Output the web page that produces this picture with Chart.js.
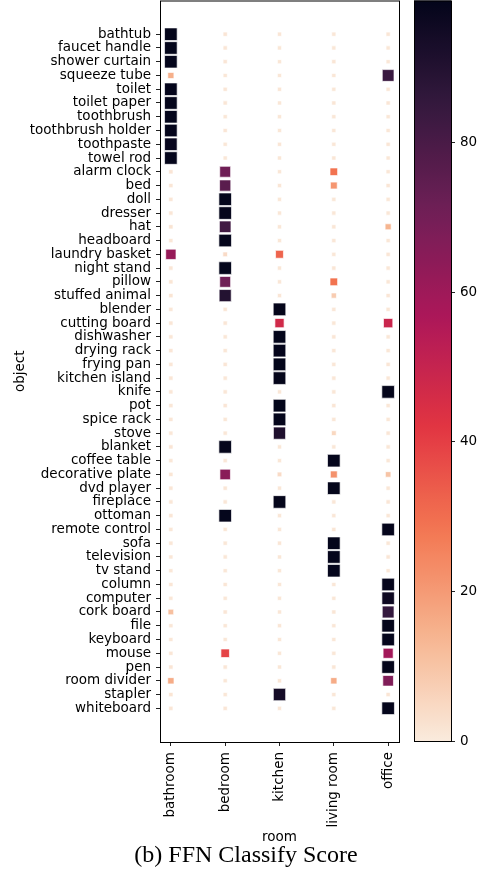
<!DOCTYPE html>
<html>
<head>
<meta charset="utf-8">
<script src="https://cdn.jsdelivr.net/npm/chart.js"></script>
<style>
  html, body { margin: 0; padding: 0; background: #fff; }
  #wrap { position: relative; width: 478px; height: 872px; overflow: hidden; }
  #mainBox { position: absolute; left: 0; top: 0; width: 478px; height: 872px; }
  #barBox { position: absolute; left: 400px; top: 0; width: 78px; height: 872px; }
  #caption {
    position: absolute; left: 0; top: 842px; width: 492px;
    text-align: center; font-family: "Liberation Serif", "Times New Roman", serif;
    font-size: 24px; line-height: 24px; color: #000; white-space: nowrap;
  }
</style>
</head>
<body>
<div id="wrap">
  <div id="mainBox"><canvas id="main"></canvas></div>
  <div id="barBox"><canvas id="bar"></canvas></div>
  <div id="caption">(b) FFN Classify Score</div>
</div>
<script>
// Rooms along x, objects along y
const rooms = ['bathroom', 'bedroom', 'kitchen', 'living room', 'office'];
const objects = [
  'bathtub', 'faucet handle', 'shower curtain', 'squeeze tube', 'toilet',
  'toilet paper', 'toothbrush', 'toothbrush holder', 'toothpaste', 'towel rod',
  'alarm clock', 'bed', 'doll', 'dresser', 'hat',
  'headboard', 'laundry basket', 'night stand', 'pillow', 'stuffed animal',
  'blender', 'cutting board', 'dishwasher', 'drying rack', 'frying pan',
  'kitchen island', 'knife', 'pot', 'spice rack', 'stove',
  'blanket', 'coffee table', 'decorative plate', 'dvd player', 'fireplace',
  'ottoman', 'remote control', 'sofa', 'television', 'tv stand',
  'column', 'computer', 'cork board', 'file', 'keyboard',
  'mouse', 'pen', 'room divider', 'stapler', 'whiteboard'
];

// Classify score per object, one array per room (same order as objects)
const bathroomScores = [
  98.5, 98.6, 98.4, 15, 98.7, 98.5, 98.6, 98.3, 97.5, 98.4,
  1.5, 1.2, 1.3, 1.2, 1.8, 1.0, 62, 1.2, 1.4, 1.6,
  1.0, 1.2, 1.1, 1.3, 1.0, 1.2, 1.0, 1.1, 1.2, 1.0,
  1.5, 1.0, 1.4, 1.2, 1.1, 1.3, 1.0, 1.1, 1.0, 1.0,
  1.2, 1.0, 11, 1.1, 1.0, 1.2, 1.5, 16, 1.6, 1.3
];
const bedroomScores = [
  1.5, 1.3, 1.2, 1.1, 1.2, 1.3, 1.1, 1.2, 1.0, 1.1,
  71, 76, 98.6, 98.5, 82, 98.4, 4, 98.6, 71, 90,
  1.2, 1.3, 1.1, 1.0, 1.2, 1.1, 1.0, 1.2, 1.1, 1.0,
  98.5, 1.0, 65, 1.2, 1.0, 98.3, 1.1, 1.0, 1.1, 1.0,
  1.2, 1.1, 1.3, 1.0, 1.1, 39, 1.2, 1.0, 1.1, 1.2
];
const kitchenScores = [
  1.2, 1.1, 1.0, 1.1, 1.2, 1.0, 1.1, 1.0, 1.2, 1.1,
  1.0, 1.2, 1.1, 1.0, 1.1, 1.0, 32, 1.1, 1.0, 1.2,
  98.5, 47, 98.6, 98.7, 98.6, 98.5, 1.0, 98.6, 98.4, 91,
  1.0, 1.1, 4, 1.0, 98.5, 1.1, 1.0, 1.2, 1.0, 1.1,
  1.0, 1.1, 1.0, 1.2, 1.0, 1.1, 1.0, 1.2, 94, 1.1
];
const livingRoomScores = [
  1.1, 1.0, 1.2, 1.1, 1.0, 1.2, 1.1, 1.0, 1.1, 1.2,
  29, 21, 1.1, 1.0, 1.2, 1.1, 1.0, 1.2, 29, 8,
  1.1, 1.0, 1.2, 1.1, 1.0, 1.1, 1.0, 1.2, 1.1, 5,
  1.0, 98.4, 22, 98.5, 1.1, 1.0, 1.2, 98.6, 98.5, 98.4,
  1.1, 1.0, 1.2, 1.1, 1.0, 1.1, 1.2, 16, 1.1, 1.0
];
const officeScores = [
  1.2, 1.1, 1.0, 84, 1.1, 1.2, 1.0, 1.1, 1.2, 1.0,
  1.1, 1.2, 1.0, 1.1, 14, 1.0, 1.2, 1.1, 1.0, 1.2,
  1.1, 49, 1.0, 1.1, 1.2, 1.0, 98.5, 1.1, 1.0, 1.2,
  1.1, 1.0, 10, 1.1, 1.2, 1.0, 98.3, 1.1, 1.2, 1.0,
  98.2, 96, 85, 98.5, 98.4, 59, 98.6, 67, 1.5, 98.4
];
const colorbarTicks = [0, 20, 40, 60, 80];

const roomScores = [bathroomScores, bedroomScores, kitchenScores, livingRoomScores, officeScores];
const VMIN = 0, VMAX = 99;

// "rocket" colour ramp (dark to light); higher scores map to darker colours
const rocketStops = [
  [0 / 7, '#03051a'], [1 / 7, '#35193e'], [2 / 7, '#701f57'], [3 / 7, '#ad1759'],
  [4 / 7, '#e13342'], [5 / 7, '#f37651'], [6 / 7, '#f6b48f'], [7 / 7, '#faebdd']
];
function hexRgb(h) { return [1, 3, 5].map(i => parseInt(h.substr(i, 2), 16)); }
function rocket(t) {
  t = Math.min(1, Math.max(0, t));
  for (let i = 1; i < rocketStops.length; i++) {
    const [p1, c1] = rocketStops[i];
    if (t <= p1) {
      const [p0, c0] = rocketStops[i - 1];
      const f = (t - p0) / (p1 - p0);
      const a = hexRgb(c0), b = hexRgb(c1);
      return 'rgb(' + a.map((v, k) => Math.round(v + (b[k] - v) * f)).join(',') + ')';
    }
  }
  return rocketStops[rocketStops.length - 1][1];
}
const scoreColor = v => rocket(1 - (v - VMIN) / (VMAX - VMIN));
// marker area grows linearly with the score
const markerSide = v => Math.sqrt(16 + 1.45 * v);

const points = [];
rooms.forEach((room, ri) => {
  roomScores[ri].forEach((v, oi) => points.push({ x: ri, y: oi, v: v }));
});

Chart.defaults.color = '#000';
Chart.defaults.font.family = '"DejaVu Sans", sans-serif';
Chart.defaults.font.size = 13.5;

const frame = {
  id: 'frame',
  afterDatasetsDraw(chart) {
    const { ctx, chartArea: a } = chart;
    ctx.save();
    ctx.strokeStyle = '#000';
    ctx.lineWidth = 1;
    ctx.strokeRect(a.left + 0.5, a.top + 0.5, a.right - a.left, a.bottom - a.top);
    ctx.restore();
  }
};

// keep the plot box where the layout padding puts it
function noEdgePadding(s) { s.paddingTop = 0; s.paddingBottom = 0; s.paddingLeft = 0; s.paddingRight = 0; }

new Chart(document.getElementById('main'), {
  type: 'scatter',
  data: {
    datasets: [{
      data: points,
      pointStyle: 'rect',
      pointRadius: c => c.raw ? markerSide(c.raw.v) / Math.SQRT2 : 2,
      pointHoverRadius: c => c.raw ? markerSide(c.raw.v) / Math.SQRT2 : 2,
      backgroundColor: c => c.raw ? scoreColor(c.raw.v) : '#000',
      borderColor: 'rgba(255,255,255,0.85)',
      borderWidth: 0.8
    }]
  },
  plugins: [frame],
  options: {
    responsive: true,
    maintainAspectRatio: false,
    animation: false,
    events: [],
    layout: { autoPadding: false, padding: { left: 0, top: 0.5, right: 79, bottom: 0 } },
    plugins: { legend: { display: false }, tooltip: { enabled: false } },
    scales: {
      x: {
        type: 'linear', min: -0.2, max: 4.2,
        afterBuildTicks: s => { s.ticks = rooms.map((_, i) => ({ value: i })); },
        afterFit: s => { s.height = 130; noEdgePadding(s); },
        ticks: {
          autoSkip: false, maxRotation: 90, minRotation: 90, padding: 6,
          callback: v => rooms[v]
        },
        grid: { drawOnChartArea: false, drawTicks: true, tickLength: 4, color: '#222', tickWidth: 1 },
        border: { display: false },
        title: { display: true, text: 'room', padding: { top: 0, bottom: 26 } }
      },
      y: {
        type: 'linear', min: -2.45, max: 51.45, reverse: true,
        afterBuildTicks: s => { s.ticks = objects.map((_, i) => ({ value: i })); },
        afterFit: s => { s.width = 160; noEdgePadding(s); },
        ticks: { autoSkip: false, padding: 5, callback: v => objects[v] },
        grid: { drawOnChartArea: false, drawTicks: true, tickLength: 4, color: '#222', tickWidth: 1 },
        border: { display: false },
        title: { display: true, text: 'object', padding: { top: 12, bottom: 0 } }
      }
    }
  }
});

// Colour bar: gradient drawn inside the chart area of a second chart
const gradientBar = {
  id: 'gradientBar',
  beforeDatasetsDraw(chart) {
    const { ctx, chartArea: a } = chart;
    const ys = chart.scales.y;
    const g = ctx.createLinearGradient(0, ys.getPixelForValue(VMIN), 0, ys.getPixelForValue(VMAX));
    for (let i = 0; i <= 40; i++) {
      const v = VMIN + (VMAX - VMIN) * i / 40;
      g.addColorStop(i / 40, scoreColor(v));
    }
    ctx.save();
    ctx.fillStyle = g;
    ctx.fillRect(a.left, a.top, a.right - a.left, a.bottom - a.top);
    ctx.strokeStyle = '#000';
    ctx.lineWidth = 1;
    ctx.strokeRect(a.left + 0.5, a.top + 0.5, a.right - a.left, a.bottom - a.top);
    ctx.restore();
  }
};

new Chart(document.getElementById('bar'), {
  type: 'scatter',
  data: { datasets: [{ data: [] }] },
  plugins: [gradientBar],
  options: {
    responsive: true,
    maintainAspectRatio: false,
    animation: false,
    events: [],
    layout: { autoPadding: false, padding: { left: 14, top: 0.5, right: 0, bottom: 131 } },
    plugins: { legend: { display: false }, tooltip: { enabled: false } },
    scales: {
      x: { display: false, min: 0, max: 1 },
      y: {
        position: 'right', min: VMIN, max: VMAX,
        afterBuildTicks: s => { s.ticks = colorbarTicks.map(v => ({ value: v })); },
        afterFit: s => { s.width = 27; noEdgePadding(s); },
        ticks: { padding: 5, callback: v => String(v) },
        grid: { drawOnChartArea: false, drawTicks: true, tickLength: 4, color: '#222', tickWidth: 1 },
        border: { display: false }
      }
    }
  }
});
</script>
</body>
</html>
